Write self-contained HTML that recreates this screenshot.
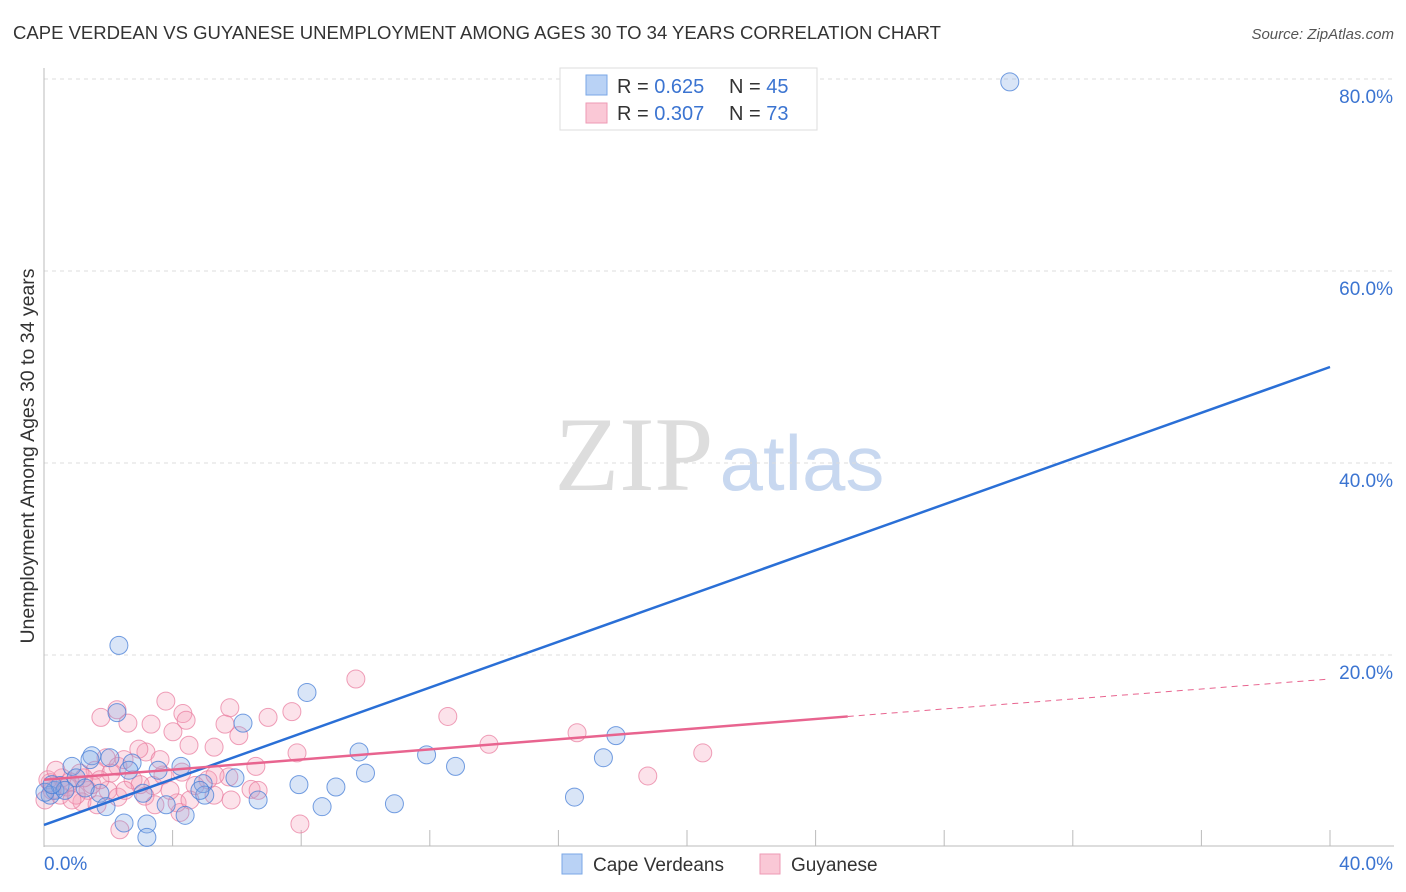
<!DOCTYPE html>
<html><head><meta charset="utf-8">
<style>
body{margin:0;background:#fff;font-family:"Liberation Sans",sans-serif;}
#wrap{position:relative;width:1406px;height:892px;overflow:hidden;}
</style></head><body>
<div id="wrap">
<svg id="svg" width="1406" height="892" xmlns="http://www.w3.org/2000/svg">
<text x="13" y="39" font-size="18" fill="#333" textLength="928" lengthAdjust="spacingAndGlyphs">CAPE VERDEAN VS GUYANESE UNEMPLOYMENT AMONG AGES 30 TO 34 YEARS CORRELATION CHART</text>
<text x="1394" y="39" font-size="15" fill="#555" font-style="italic" text-anchor="end">Source: ZipAtlas.com</text>
<text x="34" y="456" font-size="19.5" fill="#333" text-anchor="middle" transform="rotate(-90 34 456)">Unemployment Among Ages 30 to 34 years</text>
<text x="634" y="490" font-size="106" fill="#ddd" font-family="Liberation Serif,serif" text-anchor="middle">ZIP</text>
<text x="802" y="490" font-size="78" fill="#c8d8f0" text-anchor="middle">atlas</text>
<g id="grid"></g><g id="axes"></g><g id="lines"></g><g id="pts"></g>
<g>
<rect x="560" y="68" width="257" height="62" fill="#fff" stroke="#ddd"/>
<rect x="586" y="75" width="21" height="20" fill="#b9d2f5" stroke="#7aa7e6"/>
<text x="617" y="93" font-size="20" fill="#333">R = <tspan fill="#3b74d1">0.625</tspan><tspan x="729">N = </tspan><tspan fill="#3b74d1">45</tspan></text>
<rect x="586" y="103" width="21" height="20" fill="#fac8d6" stroke="#ee9ab4"/>
<text x="617" y="120" font-size="20" fill="#333">R = <tspan fill="#3b74d1">0.307</tspan><tspan x="729">N = </tspan><tspan fill="#3b74d1">73</tspan></text>
</g>
<g>
<rect x="562" y="854" width="20" height="20" fill="#b9d2f5" stroke="#7aa7e6"/>
<text x="593" y="871" font-size="19" fill="#333">Cape Verdeans</text>
<rect x="760" y="854" width="20" height="20" fill="#fac8d6" stroke="#ee9ab4"/>
<text x="791" y="871" font-size="19" fill="#333">Guyanese</text>
</g>
</svg>
</div>
<script>
const yTicks=[20,40,60,80];
const yTickLabels=["20.0%","40.0%","60.0%","80.0%"];
const xTickLabels=["0.0%","40.0%"];
const blueX=[30.04,2.33,8.18,2.27,17.79,6.19,9.8,11.9,12.8,17.4,10.0,5.94,7.93,9.08,1.49,0.87,2.05,2.74,3.55,4.26,4.95,5.0,1.74,3.08,6.66,8.65,10.9,16.5,1.93,3.8,4.39,2.49,3.2,3.2,0.34,0.19,0.5,1.0,1.28,0.65,2.64,4.85,1.43,0.03,0.25];
const blueY=[79.7,21.0,16.1,14.0,11.6,12.9,9.9,9.6,8.4,9.3,7.7,7.2,6.5,6.25,9.5,8.4,9.3,8.75,8.0,8.4,6.6,5.4,5.6,5.6,4.9,4.2,4.5,5.2,4.2,4.4,3.3,2.5,2.4,1.0,5.9,5.4,6.4,7.2,6.15,5.9,8.0,5.9,9.1,5.7,6.5];
const pinkX=[9.70,3.79,5.78,2.27,1.77,4.32,12.56,6.97,7.71,3.33,2.61,4.42,5.63,16.58,6.06,4.01,13.84,4.51,5.29,7.87,20.49,3.17,2.95,1.93,2.30,2.49,6.59,18.78,4.29,5.10,5.75,1.59,2.08,1.12,0.81,0.56,0.19,0.25,0.50,1.37,1.99,3.39,3.70,4.70,5.29,6.44,6.66,5.82,3.14,2.30,1.18,2.36,7.96,4.23,4.14,0.12,0.72,0.03,1.0,1.49,1.74,2.77,2.99,3.45,5.32,3.61,2.52,3.92,0.37,0.87,1.24,1.65,4.54];
const pinkY=[17.5,15.2,14.5,14.3,13.5,13.9,13.6,13.5,14.1,12.8,12.9,13.2,12.8,11.9,11.6,12.0,10.7,10.6,10.4,9.8,9.8,9.9,10.2,9.3,8.4,9.1,8.4,7.4,7.8,7.0,7.3,8.0,7.7,7.7,6.8,7.2,6.7,5.9,5.4,5.9,5.9,6.4,7.5,6.4,5.4,6.0,5.9,4.9,5.3,5.2,4.7,1.8,2.4,3.6,4.6,7.0,6.25,4.9,5.4,6.5,7.0,7.0,6.5,4.4,7.5,9.1,5.9,5.9,8.0,4.9,7.2,4.4,4.9];
const blueLine=[[0,2.3],[40,50.0]];
const pinkLine=[[0,7.0],[25,13.6]];
const pinkDash=[[25,13.6],[40,17.5]];
const NS="http://www.w3.org/2000/svg";
const sx=v=>44+v/40*1286;
const sy=v=>847-v/20*192;
function mk(tag,attrs,parent){const e=document.createElementNS(NS,tag);for(const k in attrs)e.setAttribute(k,attrs[k]);document.getElementById(parent).appendChild(e);return e;}
yTicks.forEach((t,i)=>{
  const g=mk('line',{x1:44,x2:1394,y1:sy(t),y2:sy(t),stroke:'#ddd','stroke-dasharray':'4,4'},'grid');
  
  
  const l=mk('text',{x:1393,y:sy(t)+24,'font-size':19,fill:'#3b74d1','text-anchor':'end'},'grid');
  l.textContent=yTickLabels[i];
  
  
});
let a=mk('line',{x1:44,x2:44,y1:68,y2:847,stroke:'#bbb'},'axes');


a=mk('line',{x1:44,x2:1394,y1:846,y2:846,stroke:'#bbb'},'axes');


for(let i=1;i<=10;i++){const t=mk('line',{x1:sx(i*4),x2:sx(i*4),y1:830,y2:846,stroke:'#bbb'},'axes');
  
  }
let xl=mk('text',{x:44,y:870,'font-size':19,fill:'#3b74d1'},'axes');xl.textContent=xTickLabels[0];


xl=mk('text',{x:1393,y:870,'font-size':19,fill:'#3b74d1','text-anchor':'end'},'axes');xl.textContent=xTickLabels[1];


pinkX.forEach((x,i)=>{const c=mk('circle',{cx:sx(x),cy:sy(pinkY[i]),r:9,fill:'rgba(244,160,185,0.3)',stroke:'rgba(232,120,155,0.7)','stroke-width':1},'pts');
  
  });
blueX.forEach((x,i)=>{const c=mk('circle',{cx:sx(x),cy:sy(blueY[i]),r:9,fill:'rgba(130,170,230,0.3)',stroke:'rgba(70,125,215,0.75)','stroke-width':1},'pts');
  
  });
let L=mk('line',{x1:sx(blueLine[0][0]),y1:sy(blueLine[0][1]),x2:sx(blueLine[1][0]),y2:sy(blueLine[1][1]),stroke:'#2a6fd6','stroke-width':2.5},'pts');


L=mk('line',{x1:sx(pinkLine[0][0]),y1:sy(pinkLine[0][1]),x2:sx(pinkLine[1][0]),y2:sy(pinkLine[1][1]),stroke:'#e8648f','stroke-width':2.5},'pts');


L=mk('line',{x1:sx(pinkDash[0][0]),y1:sy(pinkDash[0][1]),x2:sx(pinkDash[1][0]),y2:sy(pinkDash[1][1]),stroke:'#e8648f','stroke-width':1,'stroke-dasharray':'6,5'},'pts');


</script>
</body></html>
